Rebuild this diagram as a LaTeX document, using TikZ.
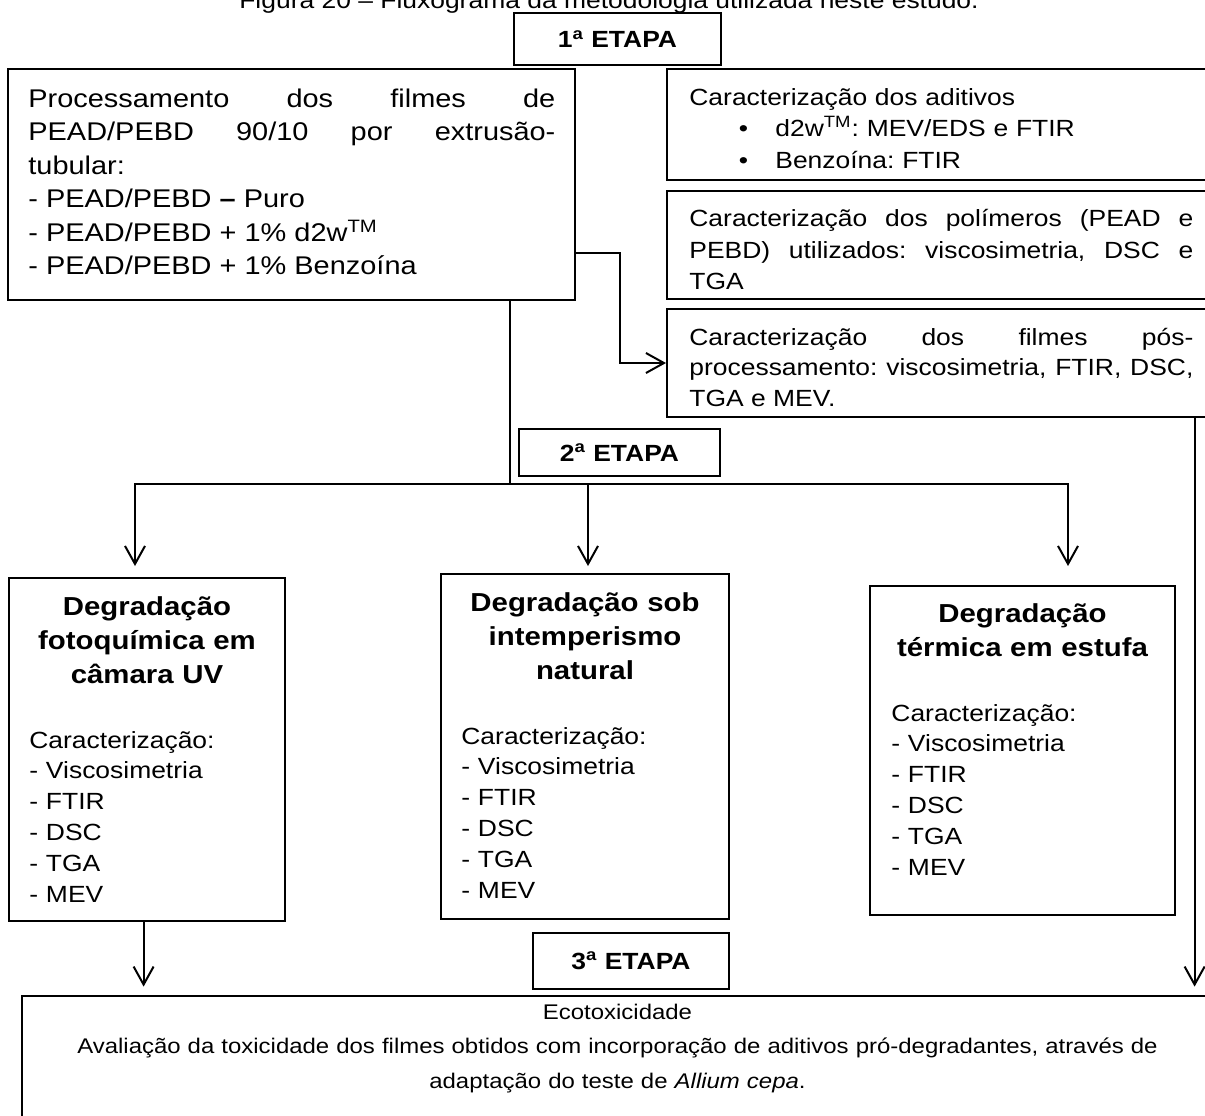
\documentclass[tikz,border=0pt]{standalone}
\usepackage{fontspec}
\setmainfont{Liberation Sans}[FakeStretch=1.13]
\frenchspacing
\usetikzlibrary{arrows.meta}

\begin{document}
\begin{tikzpicture}[x=0.5pt,y=-0.5pt,>={Straight Barb[length=9pt,width=10pt]},
  box/.style={shape=rectangle,draw=black,line width=1pt,inner sep=0pt},
  etapa/.style={box,font=\fontsize{11.7}{14}\selectfont\bfseries},
  txt/.style={inner sep=0pt,anchor=base west},
  ttl/.style={inner sep=0pt,anchor=base,align=center,font=\fontsize{13}{17}\selectfont\bfseries},
  lst/.style={txt,align=left,font=\fontsize{11.7}{15.4}\selectfont},
  link/.style={draw=black,line width=1pt}]
\useasboundingbox (0,0) rectangle (1205,1115);

\node[inner sep=0pt,anchor=base,font=\fontsize{11.7}{14}\selectfont] (c) at (609,8.5) {Figura 20 – Fluxograma da metodologia utilizada neste estudo.};

\node[etapa,minimum width=103.5pt,minimum height=26pt] (0) at (617.5,39) {1\textsuperscript{a} ETAPA};
\node[box,minimum width=283.5pt,minimum height=115.5pt] (1) at (291.5,184.5) {};
\node[box,minimum width=274pt,minimum height=55.5pt] (2) at (941,124.5) {};
\node[box,minimum width=274pt,minimum height=54pt] (3) at (941,245) {};
\node[box,minimum width=274pt,minimum height=54pt] (4) at (941,363) {};
\node[etapa,minimum width=100.5pt,minimum height=23.5pt] (5) at (619.5,452.5) {2\textsuperscript{a} ETAPA};
\node[box,minimum width=138pt,minimum height=171.5pt] (6) at (147,749.5) {};
\node[box,minimum width=144pt,minimum height=172.5pt] (7) at (585,746.5) {};
\node[box,minimum width=152.5pt,minimum height=164.5pt] (8) at (1022.5,750.5) {};
\node[etapa,minimum width=98pt,minimum height=28pt] (9) at (631,961) {3\textsuperscript{a} ETAPA};
\node[box,line width=1.4pt,minimum width=596.5pt,minimum height=67pt] (10) at (618.5,1063) {};

% texts
\node[txt,text width=263.5pt,align=justify,font=\fontsize{12.8}{16.75}\selectfont] (11) at (28,107) {Processamento dos filmes de\linebreak PEAD/PEBD 90/10 por extrusão-\linebreak tubular:\par - PEAD/PEBD {\bfseries –} Puro\par - PEAD/PEBD + 1\% d2w\textsuperscript{TM}\par - PEAD/PEBD + 1\% Benzoína};
\node[txt,text width=252pt,align=left,font=\fontsize{11.7}{15.75}\selectfont] (12) at (689,105) {Caracterização dos aditivos\\\hspace*{24.75pt}\makebox[18.25pt][l]{\textbullet}d2w\textsuperscript{TM}: MEV/EDS e FTIR\\\hspace*{24.75pt}\makebox[18.25pt][l]{\textbullet}Benzoína: FTIR};
\node[txt,text width=252pt,align=justify,font=\fontsize{11.7}{15.75}\selectfont] (13) at (689,226.5) {Caracterização dos polímeros (PEAD e\linebreak PEBD) utilizados: viscosimetria, DSC e\linebreak TGA};
\node[txt,text width=252pt,align=justify,font=\fontsize{11.7}{15.25}\selectfont] (14) at (689,345) {Caracterização dos filmes pós-\linebreak processamento: viscosimetria, FTIR, DSC,\linebreak TGA e MEV.};

\node[ttl,text width=138pt] (15) at (147,615) {Degradação\\fotoquímica em\\câmara UV};
\node[lst,text width=130pt] (16) at (29,748) {Caracterização:\\- Viscosimetria\\- FTIR\\- DSC\\- TGA\\- MEV};
\node[ttl,text width=144pt] (17) at (585,611) {Degradação sob\\intemperismo\\natural};
\node[lst,text width=130pt] (18) at (461,744) {Caracterização:\\- Viscosimetria\\- FTIR\\- DSC\\- TGA\\- MEV};
\node[ttl,text width=152.5pt] (19) at (1022.5,622) {Degradação\\térmica em estufa};
\node[lst,text width=130pt] (20) at (891,721) {Caracterização:\\- Viscosimetria\\- FTIR\\- DSC\\- TGA\\- MEV};

\node[inner sep=0pt,anchor=base,text width=590pt,align=center,font=\fontsize{10.6}{17.25}\selectfont] (21) at (617.5,1019) {Ecotoxicidade\\Avaliação da toxicidade dos filmes obtidos com incorporação de aditivos pró-degradantes, através de\\adaptação do teste de \textit{Allium cepa}.};

% connectors
\coordinate (a1) at ([xshift=-6pt,yshift=5.5pt]6.north);
\coordinate (a2) at ([xshift=1.5pt,yshift=3.5pt]7.north);
\coordinate (a3) at ([xshift=22.75pt,yshift=9.5pt]8.north);
\coordinate (a4) at ([xshift=61.5pt,yshift=4pt]10.north west);
\coordinate (a5) at ([xshift=587pt,yshift=4pt]10.north west);

\path [->,link] ([yshift=-34.25pt]1.east) -| ([xshift=-23pt]4.west) -- (4.west);
\path [link] ([xshift=109.25pt]1.south) -- ++(0,183) coordinate (j);
\path [->,link] (j) -| (a1);
\path [->,link] (j) -| (a3);
\path [->,link] (a2 |- j) -- (a2);
\path [->,link] (6.south -| a4) -- (a4);
\path [->,link] (4.south -| a5) -- (a5);
\end{tikzpicture}
\end{document}
